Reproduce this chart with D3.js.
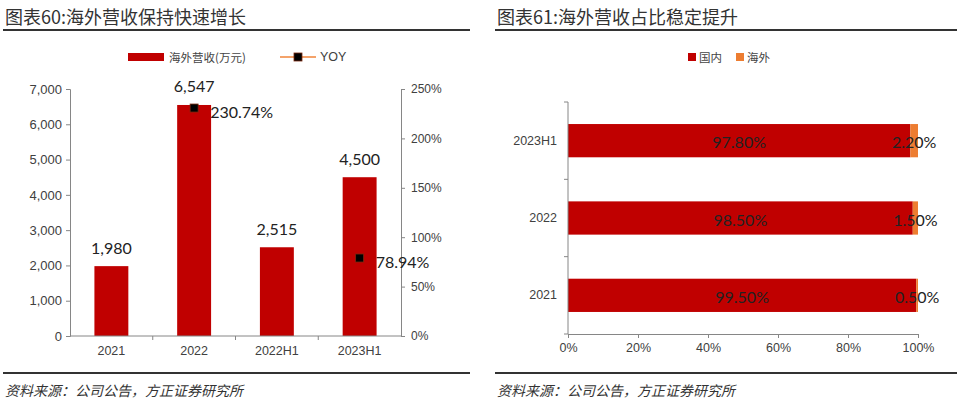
<!DOCTYPE html>
<html><head><meta charset="utf-8">
<script src="https://cdn.jsdelivr.net/npm/d3@7"></script>
<style>
body{margin:0;background:#fff;}
svg{display:block;}
</style></head>
<body>
<svg id="chart" width="960" height="405"></svg>
<script>
// ---- Data: left chart ----
const categories = ["2021", "2022", "2022H1", "2023H1"];
const revenue = [1980, 6547, 2515, 4500];          // 海外营收(万元)
const yoy = [null, 230.74, null, 78.94];           // YOY (%)
const revTicks = [0, 1000, 2000, 3000, 4000, 5000, 6000, 7000];
const yoyTicks = [0, 50, 100, 150, 200, 250];

// ---- Data: right chart ----
const shareCats = ["2023H1", "2022", "2021"];
const domestic = [97.8, 98.5, 99.5];              // 国内 (%)
const overseas = [2.2, 1.5, 0.5];                 // 海外 (%)
const shareTicks = [0, 20, 40, 60, 80, 100];

const RED = "#C00000", ORANGE = "#ED7D31", LINEOR = "#F4A36B";
const AXIS = "#868686", TXT = "#404040";
const CJK = "'Noto Sans CJK SC', sans-serif";
const SANS = "'Liberation Sans', Arial, sans-serif";
const LBL = "Lato, 'Open Sans', sans-serif";

const svg = d3.select("#chart");

// ---------- Titles & rules ----------
function header(x0, x1, text) {
  svg.append("text").attr("x", x0 + 2).attr("y", 16).attr("dominant-baseline", "central")
    .attr("font-family", CJK).attr("font-size", 18).attr("fill", "#333").text(text);
  svg.append("line").attr("x1", x0).attr("x2", x1).attr("y1", 30).attr("y2", 30)
    .attr("stroke", "#333").attr("stroke-width", 2);
}
function footer(x0, x1) {
  svg.append("line").attr("x1", x0).attr("x2", x1).attr("y1", 373).attr("y2", 373)
    .attr("stroke", "#333").attr("stroke-width", 2);
  svg.append("text").attr("x", x0 + 2).attr("y", 390).attr("dominant-baseline", "central")
    .attr("font-family", CJK).attr("font-style", "italic").attr("font-size", 14)
    .attr("fill", "#333").text("资料来源：公司公告，方正证券研究所");
}
header(3, 470, "图表60:海外营收保持快速增长");
header(495, 957, "图表61:海外营收占比稳定提升");
footer(3, 470);
footer(495, 957);

// ---------- Left chart ----------
const x = d3.scaleBand().domain(categories).range([70, 401]).paddingInner(0.59).paddingOuter(0.295);
const yL = d3.scaleLinear().domain([0, 7000]).range([336, 89]);
const yR = d3.scaleLinear().domain([0, 250]).range([336, 89]);

function styleAxis(g, size) {
  g.selectAll("path,line").attr("stroke", AXIS);
  g.selectAll("text").attr("font-family", SANS).attr("font-size", size).attr("fill", TXT);
}

// bars
svg.append("g").selectAll("rect").data(categories).join("rect")
  .attr("x", d => x(d)).attr("width", x.bandwidth())
  .attr("y", (d, i) => yL(revenue[i])).attr("height", (d, i) => yL(0) - yL(revenue[i]))
  .attr("fill", RED);

// left axis
svg.append("g").attr("transform", "translate(70,0)")
  .call(d3.axisLeft(yL).tickValues(revTicks).tickSize(4).tickSizeOuter(4).tickPadding(4).tickFormat(d3.format(",")))
  .call(g => styleAxis(g, 13));
// right axis
svg.append("g").attr("transform", "translate(401,0)")
  .call(d3.axisRight(yR).tickValues(yoyTicks).tickSize(4).tickSizeOuter(4).tickPadding(6).tickFormat(d => d + "%"))
  .call(g => styleAxis(g, 12));
// bottom axis with ticks at category boundaries
const bAxis = svg.append("g").attr("transform", "translate(0,336)");
bAxis.append("line").attr("x1", 70).attr("x2", 401).attr("y1", 0).attr("y2", 0).attr("stroke", AXIS);
bAxis.selectAll("line.tk").data(categories.slice(1)).join("line").attr("class", "tk")
  .attr("x1", d => x(d) - x.step() * x.paddingInner() / 2).attr("x2", d => x(d) - x.step() * x.paddingInner() / 2)
  .attr("y1", 0).attr("y2", 4).attr("stroke", AXIS);
bAxis.selectAll("text").data(categories).join("text")
  .attr("x", d => x(d) + x.bandwidth() / 2).attr("y", 15).attr("dominant-baseline", "central")
  .attr("text-anchor", "middle").attr("font-family", SANS).attr("font-size", 12.5).attr("fill", TXT)
  .text(d => d);

// bar value labels
svg.append("g").selectAll("text").data(categories).join("text")
  .attr("x", d => x(d) + x.bandwidth() / 2).attr("y", (d, i) => yL(revenue[i]) - 19)
  .attr("text-anchor", "middle").attr("dominant-baseline", "central")
  .attr("font-family", LBL).attr("font-size", 16).attr("fill", "#222")
  .text((d, i) => d3.format(",")(revenue[i]));

// YOY line (gaps where missing) + markers
const yoyPts = categories.map((c, i) => ({c, v: yoy[i]}));
svg.append("path").datum(yoyPts)
  .attr("d", d3.line().defined(d => d.v != null).x(d => x(d.c) + x.bandwidth() / 2).y(d => yR(d.v)))
  .attr("fill", "none").attr("stroke", LINEOR).attr("stroke-width", 2);
const pts = yoyPts.filter(d => d.v != null);
svg.append("g").selectAll("rect").data(pts).join("rect")
  .attr("x", d => x(d.c) + x.bandwidth() / 2 - 4).attr("y", d => yR(d.v) - 4)
  .attr("width", 8).attr("height", 8).attr("fill", "#000").attr("stroke", "#7a2a10").attr("stroke-width", 0.8);
svg.append("g").selectAll("text").data(pts).join("text")
  .attr("x", d => x(d.c) + x.bandwidth() / 2 + 16).attr("y", d => yR(d.v) + 3)
  .attr("dominant-baseline", "central").attr("font-family", LBL).attr("font-size", 16).attr("fill", "#222")
  .text(d => d.v.toFixed(2) + "%");

// legend left
svg.append("rect").attr("x", 128).attr("y", 53).attr("width", 36).attr("height", 8).attr("fill", RED);
svg.append("text").attr("x", 169).attr("y", 57).attr("dominant-baseline", "central")
  .attr("font-family", CJK).attr("font-size", 11.5).attr("fill", "#444").text("海外营收(万元)");
svg.append("line").attr("x1", 280).attr("x2", 316).attr("y1", 57).attr("y2", 57).attr("stroke", LINEOR).attr("stroke-width", 2);
svg.append("rect").attr("x", 294).attr("y", 53).attr("width", 8).attr("height", 8).attr("fill", "#000").attr("stroke", "#7a2a10").attr("stroke-width", 0.8);
svg.append("text").attr("x", 320).attr("y", 57).attr("dominant-baseline", "central")
  .attr("font-family", SANS).attr("font-size", 12.5).attr("fill", TXT).text("YOY");

// ---------- Right chart ----------
const xs = d3.scaleLinear().domain([0, 100]).range([568, 918]);
const ys = d3.scaleBand().domain(shareCats).range([102, 334]).paddingInner(0.57).paddingOuter(0.285);

svg.append("g").selectAll("rect").data(shareCats).join("rect")
  .attr("x", xs(0)).attr("y", d => ys(d)).attr("height", ys.bandwidth())
  .attr("width", (d, i) => xs(domestic[i]) - xs(0)).attr("fill", RED);
svg.append("g").selectAll("rect").data(shareCats).join("rect")
  .attr("x", (d, i) => xs(domestic[i])).attr("y", d => ys(d)).attr("height", ys.bandwidth())
  .attr("width", (d, i) => xs(domestic[i] + overseas[i]) - xs(domestic[i])).attr("fill", ORANGE);

// axes
svg.append("g").attr("transform", "translate(0,334)")
  .call(d3.axisBottom(xs).tickValues(shareTicks).tickSize(4).tickSizeOuter(0).tickPadding(5).tickFormat(d => d + "%"))
  .call(g => styleAxis(g, 12.5));
const lAxis = svg.append("g");
lAxis.append("line").attr("x1", 568).attr("x2", 568).attr("y1", 102).attr("y2", 334).attr("stroke", AXIS);
const bounds = [102, ...shareCats.slice(1).map(d => ys(d) - ys.step() * ys.paddingInner() / 2), 334];
lAxis.selectAll("line.tk").data(bounds).join("line").attr("class", "tk")
  .attr("x1", 564).attr("x2", 568).attr("y1", d => d).attr("y2", d => d).attr("stroke", AXIS);
lAxis.selectAll("text").data(shareCats).join("text")
  .attr("x", 557).attr("y", d => ys(d) + ys.bandwidth() / 2).attr("text-anchor", "end")
  .attr("dominant-baseline", "central").attr("font-family", SANS).attr("font-size", 12.5).attr("fill", TXT)
  .text(d => d);

// labels
svg.append("g").selectAll("text").data(shareCats).join("text")
  .attr("x", (d, i) => xs(domestic[i] / 2)).attr("y", d => ys(d) + ys.bandwidth() / 2 + 1)
  .attr("text-anchor", "middle").attr("dominant-baseline", "central")
  .attr("font-family", LBL).attr("font-size", 16).attr("fill", "#222")
  .text((d, i) => domestic[i].toFixed(2) + "%");
svg.append("g").selectAll("text").data(shareCats).join("text")
  .attr("x", (d, i) => xs(domestic[i] + overseas[i] / 2)).attr("y", d => ys(d) + ys.bandwidth() / 2 + 1)
  .attr("text-anchor", "middle").attr("dominant-baseline", "central")
  .attr("font-family", LBL).attr("font-size", 16).attr("fill", "#222")
  .text((d, i) => overseas[i].toFixed(2) + "%");

// legend right
svg.append("rect").attr("x", 688).attr("y", 53).attr("width", 8).attr("height", 8).attr("fill", RED);
svg.append("text").attr("x", 699).attr("y", 57).attr("dominant-baseline", "central")
  .attr("font-family", CJK).attr("font-size", 11.5).attr("fill", "#444").text("国内");
svg.append("rect").attr("x", 736).attr("y", 53).attr("width", 8).attr("height", 8).attr("fill", ORANGE);
svg.append("text").attr("x", 747).attr("y", 57).attr("dominant-baseline", "central")
  .attr("font-family", CJK).attr("font-size", 11.5).attr("fill", "#444").text("海外");
</script>
</body></html>
